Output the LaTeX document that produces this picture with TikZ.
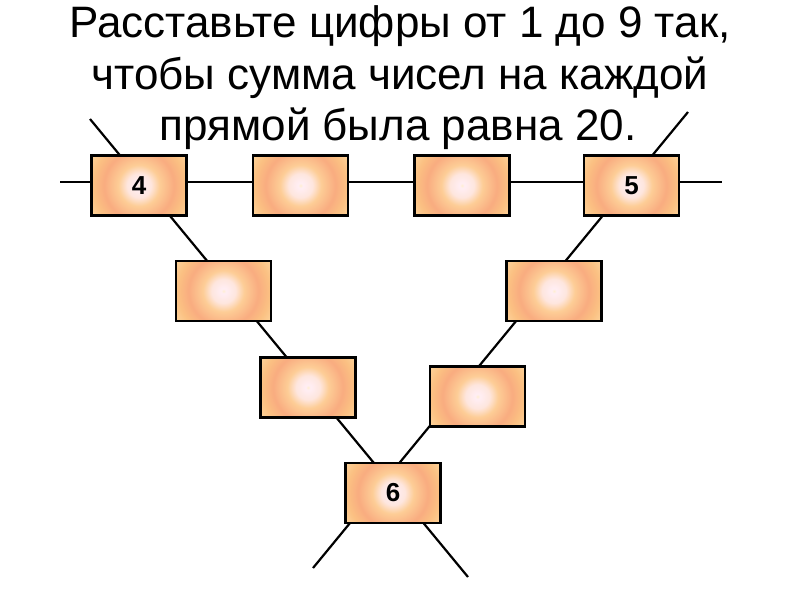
\documentclass[tikz,border=0pt]{standalone}
\usepackage{fontspec}
\setmainfont{Liberation Sans}
\usetikzlibrary{backgrounds}
\definecolor{s0}{RGB}{255,238,210}
\definecolor{s1}{RGB}{255,238,244}
\definecolor{s2}{RGB}{254,230,222}
\definecolor{s3}{RGB}{253,205,150}
\definecolor{s4}{RGB}{249,172,128}
\definecolor{s5}{RGB}{251,192,130}
\definecolor{s6}{RGB}{253,214,158}
\pgfdeclareradialshading{boxshade}{\pgfpoint{0bp}{0bp}}{color(0bp)=(s0); color(1bp)=(s1); color(5bp)=(s2); color(8.6bp)=(s3); color(14.5bp)=(s4); color(19bp)=(s5); color(24bp)=(s6); color(50bp)=(s6)}
\tikzset{
  cell/.style={draw=black, line width=2.3pt, minimum width=95pt, minimum height=60pt, inner sep=0pt,
    path picture={\shade[shading=boxshade] (path picture bounding box.center) circle[radius=60pt];},
    font=\bfseries\fontsize{26}{26}\selectfont},
  wire/.style={draw=black, line width=2.2pt},
  title/.style={anchor=base, inner sep=0pt, font=\fontsize{44}{51}\selectfont}
}
\begin{document}
\begin{tikzpicture}[x=1pt,y=-1pt]
\useasboundingbox (0,0) rectangle (800,600);
\node[title] (t1) at (400,37) {Расставьте цифры от 1 до 9 так,};
\node[title] (t2) at (400,89) {чтобы сумма чисел на каждой};
\node[title] (t3) at (398,140) {прямой была равна 20.};
\node[cell] (b4) at (139,185.5) {4};
\node[cell] (b2) at (300.5,185.5) {};
\node[cell] (b3) at (462,185.5) {};
\node[cell] (b5) at (631.5,185.5) {5};
\node[cell] (l2) at (223.5,291) {};
\node[cell] (r2) at (554,291) {};
\node[cell] (l3) at (308,387.5) {};
\node[cell] (r3) at (477.5,396.5) {};
\node[cell] (b6) at (393,493) {6};
\coordinate (hl) at (60,182);
\coordinate (hr) at (722,182);
\coordinate (lt) at (90,119);
\coordinate (lb) at (468,577);
\coordinate (rt) at (688,112);
\coordinate (rb) at (313,568);
\begin{pgfonlayer}{background}
\draw[wire] (hl) -- (hr);
\draw[wire] (lt) -- (lb);
\draw[wire] (rt) -- (rb);
\end{pgfonlayer}
\end{tikzpicture}
\end{document}
